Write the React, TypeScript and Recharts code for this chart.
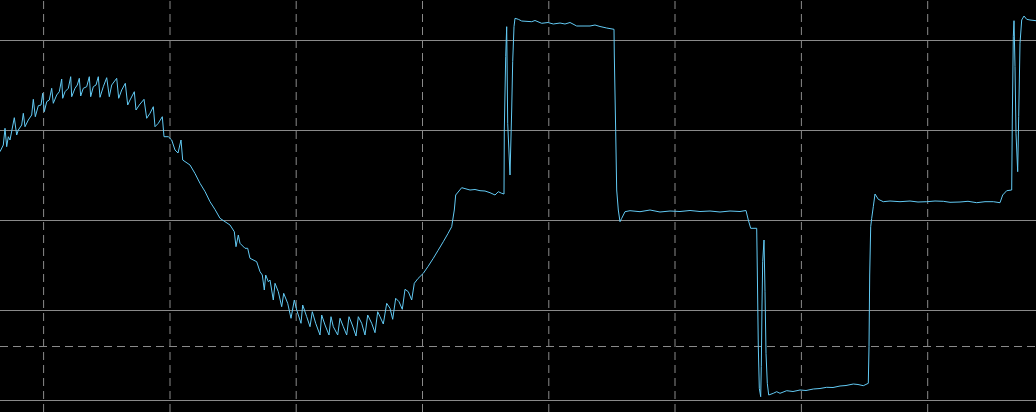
import { LineChart, Line, XAxis, YAxis, ReferenceLine } from "recharts";

// time in samples (1 sample ≈ 1 px), level in display units (90 per division)
const xTicks = [43.6, 170, 296.2, 422.5, 548.8, 675, 801.4, 927.7];
const yTicks = [-180, -90, 0, 90, 180];
const triggerLevel = -126;

// [time, level]
const sineSegment: [number, number][] = [
  [0, 68.8], [3.3, 75.5], [5, 92.2], [6.7, 73.8], [8.3, 83.8], [10, 80.5],
  [14.3, 102.8], [16.7, 85.5], [18.3, 90.5], [21.7, 95.5], [23.3, 107.2], [25, 93.8],
  [28.3, 100.5], [31.7, 105.5], [33.3, 121.2], [35.3, 103.8], [38.3, 114.8], [41, 115.5],
  [42.7, 127.2], [44.3, 108.8], [46.7, 118.8], [49.3, 120.5], [51.7, 132.2], [53.3, 117.2],
  [56.7, 125.5], [59.3, 128.8], [61.7, 141.5], [62.7, 122.2], [65, 128.8], [68.3, 132.2],
  [70.7, 143.8], [71.7, 123.8], [75, 132.2], [77.3, 135.5], [79.3, 142.2], [80.7, 124.5],
  [83.3, 132.2], [86.7, 133.8], [89.3, 143.8], [90.7, 123.8], [93.3, 133.8], [96, 135.5],
  [98.3, 143.8], [100, 123.2], [103.3, 133.8], [106.7, 142.8], [109.3, 123.8], [111.7, 135.5],
  [116.7, 142.2], [118.7, 122.2], [121.7, 130.5], [125.3, 137.2], [127.7, 115.5], [130, 120.5],
  [134.3, 128.8], [136, 110.5], [139.3, 115.5], [144, 121.2], [146.7, 102.2], [150, 107.2],
  [153.3, 113.8], [155, 93.8], [158.3, 97.2], [162.3, 103.8], [164, 83.8], [168.3, 83.8],
  [171.7, 80.5], [175, 70.5], [178, 67.5], [181, 80.5], [182.7, 60.5], [190, 55.5],
  [195, 47], [200, 37.2], [205, 29], [210, 18.8], [215, 11], [220, 2.2], [225, -1.2],
  [230, -4.5], [234.3, -11.2], [236, -26.2], [238.3, -14.5], [240, -22.8], [245, -27.8],
  [247.7, -27.8], [250, -37.8], [256.7, -41.2], [260, -51.2], [262.3, -54.5], [264.3, -69.5],
  [265.7, -54.5], [268.3, -61.2], [270, -59.5], [273.3, -79.5], [275, -62.8], [278.3, -71.2],
  [281.7, -86.2], [283.7, -72.8], [287.7, -82.8], [291, -97.8], [294.3, -79.5], [296.7, -89.5],
  [301, -102.8], [302.7, -84.5], [306.7, -96.2], [310, -106.2], [312.3, -91.2], [315.7, -102.8],
  [320, -114.5], [321.7, -94.5], [325, -104.5], [329, -114.5], [331, -96.2], [333.3, -106.2],
  [337.7, -114.5], [340, -97.8], [343.3, -106.2], [346.7, -114.5], [349, -96.2], [352.3, -104.5],
  [356, -115.5], [358.3, -96.2], [361.7, -102.8], [365, -114.5], [367.7, -94.5], [371.7, -102.8],
  [375, -112.2], [377.7, -91.2], [380, -96.2], [383.3, -103.5], [386.7, -82.8], [390, -87.8],
  [392.7, -98.8], [395.7, -77.8], [399, -81.2], [402.3, -88.8], [405, -68.8], [408.3, -71.2],
  [411.7, -79.5], [414.3, -62.8], [418, -58], [423.3, -52.8], [428, -46], [433.3, -37.8],
  [438, -30], [443.3, -21.2], [448, -13], [451.7, -6.2], [454.3, 10.5], [455.7, 25.5],
];

const highPulse: [number, number][] = [
  [461.7, 32.8], [470, 30.5], [475, 31], [480, 29.8], [485, 29.5], [490, 27.8], [495, 25.5],
  [498.3, 28.8], [501.7, 27.2], [504, 26.5], [504.3, 90.5], [505.7, 163.8], [506.7, 193.8],
  [507.7, 97.2], [510, 45.5], [511.7, 110.5], [512.7, 158.8], [514, 193.8], [515, 202.2],
  [518.3, 201.2], [521.7, 199.5], [531.7, 198.8], [535, 200], [541.7, 197.2], [548, 198],
  [553.3, 196.5], [560, 197.5], [565, 196.5], [570, 198], [576.7, 194.5], [590, 194.5],
  [595, 195.5], [600, 194], [606.7, 192.5], [614, 191.2], [614.3, 165.5], [615.7, 88.8],
  [616.7, 30.5], [618.3, 10.5], [620, -1.2], [621.7, 2.2], [625, 8.8],
];

const midPlateau: [number, number][] = [
  [630, 9.8], [640, 8.8], [650, 10.5], [660, 8.5], [670, 9.5], [680, 9], [690, 10],
  [700, 9], [710, 9.5], [720, 8.5], [730, 9.5], [740, 9], [746, 10], [748.3, 0.5],
  [750.7, -7.8], [756.7, -7.8],
];

const lowPulse: [number, number][] = [
  [757.3, -49.5], [758.3, -126.2], [759.3, -167.8], [760.7, -176.2], [761.3, -146.2],
  [762, -84.5], [762.7, -41.2], [764, -19.5], [765, -71.2], [766, -132.8], [767.3, -162.8],
  [768.7, -174.5], [773.3, -172.8], [776.7, -171.2], [780, -172.8], [786.7, -170.2],
  [793, -171], [800, -169.5], [806, -170], [813.3, -168.5], [820, -168], [826.7, -166.8],
  [833, -167], [840, -165.5], [846, -165], [853.3, -163.5], [858, -164], [863.3, -165.2],
  [868.3, -162.8], [869, -126.2], [869.7, -54.5], [870.7, -6.2], [871.7, 2.2], [873.3, 13.8],
  [875, 26.5], [878.3, 21.2],
];

const finalStep: [number, number][] = [
  [883.3, 18.8], [890, 19.5], [900, 18.8], [910, 19.5], [918, 18.5], [926.7, 18.8],
  [935, 19.5], [943.3, 19.2], [950, 18.2], [960, 18.5], [968, 19.2], [976.7, 17.8],
  [985, 18.8], [993.3, 18.8], [1000, 17.8], [1002.7, 25.5], [1006.7, 29.8], [1011.7, 30.5],
  [1012.3, 100.5], [1013.3, 183.8], [1014, 199.8], [1015, 153.8], [1016, 87.2],
  [1017.7, 48.8], [1018.7, 103.8], [1020, 177.2], [1021.7, 200.5], [1024, 204.5],
  [1026.7, 201.2], [1030, 200.5], [1036, 199.8],
];

const data = [...sineSegment, ...highPulse, ...midPlateau, ...lowPulse, ...finalStep].map(
  ([t, v]) => ({ t, v })
);

const gridColor = "#8a8a8a";

const App = () => {
  return (
    <div style={{ position: "absolute", left: 0, top: 0, width: 1036, height: 412, background: "#000" }}>
      <LineChart width={1036} height={412} data={data} margin={{ top: 0, right: 0, bottom: 0, left: 0 }}>
        <XAxis type="number" dataKey="t" domain={[0, 1036]} ticks={xTicks} hide />
        <YAxis type="number" domain={[-191.5, 220.5]} ticks={yTicks} hide />
        {yTicks.map((y) => (
          <ReferenceLine key={`h-${y}`} y={y} stroke={gridColor} />
        ))}
        {xTicks.map((x) => (
          <ReferenceLine key={`v-${x}`} x={x} stroke={gridColor} strokeDasharray="8 5" />
        ))}
        <ReferenceLine y={triggerLevel} stroke={gridColor} strokeDasharray="8 5" />
        <Line
          type="linear"
          dataKey="v"
          stroke="#62caf4"
          strokeWidth={1}
          dot={false}
          activeDot={false}
          isAnimationActive={false}
        />
      </LineChart>
    </div>
  );
};

export default App;
